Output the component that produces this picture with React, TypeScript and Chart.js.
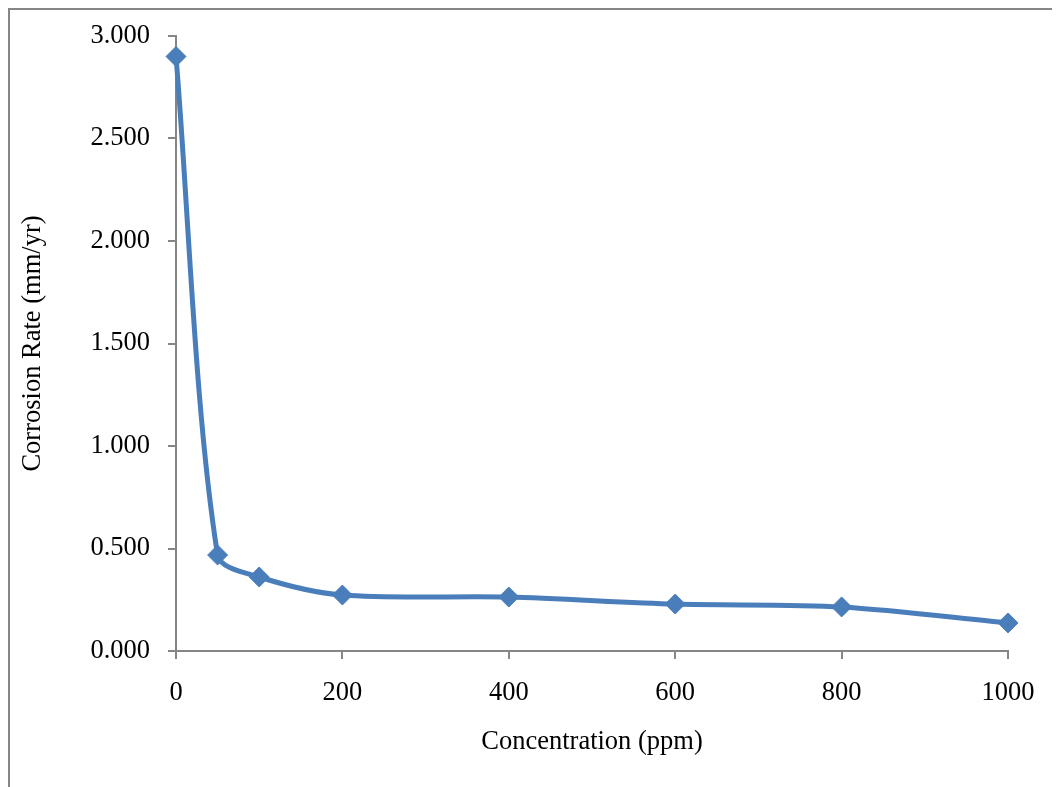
import React, { useEffect, useRef } from "react";
import { Chart, registerables } from "chart.js";

Chart.register(...registerables);

const concentration = [0, 50, 100, 200, 400, 600, 800, 1000];
const corrosionRate = [2.9, 0.468, 0.361, 0.273, 0.263, 0.229, 0.215, 0.137];
const xTicks = [0, 200, 400, 600, 800, 1000];
const yTicks = [0, 0.5, 1, 1.5, 2, 2.5, 3];
const xTitle = "Concentration (ppm)";
const yTitle = "Corrosion Rate (mm/yr)";

const FONT = '"Liberation Serif", "Times New Roman", serif';
const GRAY = "#868686";
const BLUE = "#4A7EBB";
const FS = 26.5;

export default function App() {
  const ref = useRef<HTMLCanvasElement | null>(null);

  useEffect(() => {
    if (!ref.current) return;
    const chart = new Chart(ref.current, {
      type: "line",
      data: {
        datasets: [
          {
            data: concentration.map((x, i) => ({ x, y: corrosionRate[i] })),
            borderColor: BLUE,
            backgroundColor: BLUE,
            borderWidth: 5,
            tension: 0.3,
            pointStyle: "rectRot",
            pointRadius: 10,
            pointBorderWidth: 1,
            pointBackgroundColor: BLUE,
            pointBorderColor: BLUE,
            fill: false,
            clip: false,
          },
        ],
      },
      options: {
        responsive: false,
        animation: false,
        events: [],
        layout: { padding: { left: 0, top: 26, right: 52, bottom: 0 } },
        plugins: {
          legend: { display: false },
          tooltip: { enabled: false },
        },
        scales: {
          x: {
            type: "linear",
            min: 0,
            max: 1000,
            afterBuildTicks: (scale: any) => {
              scale.ticks = xTicks.map((v) => ({ value: v }));
            },
            afterFit: (scale: any) => {
              scale.height = 136;
              scale.paddingLeft = 0;
              scale.paddingRight = 0;
            },
            grid: {
              drawOnChartArea: false,
              drawTicks: true,
              tickLength: 8,
              color: GRAY,
              lineWidth: 2,
            },
            border: { display: true, color: GRAY, width: 2 },
            ticks: {
              padding: 18,
              color: "#000",
              font: { family: FONT, size: FS },
              maxRotation: 0,
              callback: (v: any) => String(v),
            },
            title: {
              display: true,
              text: xTitle,
              color: "#000",
              font: { family: FONT, size: FS },
              padding: { top: 0, bottom: 29 },
            },
          },
          y: {
            type: "linear",
            min: 0,
            max: 3,
            afterBuildTicks: (scale: any) => {
              scale.ticks = yTicks.map((v) => ({ value: v }));
            },
            afterFit: (scale: any) => {
              scale.width = 166;
              scale.paddingTop = 0;
              scale.paddingBottom = 0;
            },
            grid: {
              drawOnChartArea: false,
              drawTicks: true,
              tickLength: 8,
              color: GRAY,
              lineWidth: 2,
            },
            border: { display: true, color: GRAY, width: 2 },
            ticks: {
              padding: 18,
              color: "#000",
              font: { family: FONT, size: FS },
              callback: (v: any) => Number(v).toFixed(3),
            },
            title: {
              display: true,
              text: yTitle,
              color: "#000",
              font: { family: FONT, size: FS },
              padding: { top: 7, bottom: 0 },
            },
          },
        },
      },
    });
    return () => chart.destroy();
  }, []);

  return (
    <div
      style={{
        width: 1052,
        height: 779,
        boxSizing: "border-box",
        borderLeft: `2px solid ${GRAY}`,
        borderTop: `2px solid ${GRAY}`,
        background: "#fff",
      }}
    >
      <canvas ref={ref} width={1050} height={777} style={{ display: "block" }} />
    </div>
  );
}
